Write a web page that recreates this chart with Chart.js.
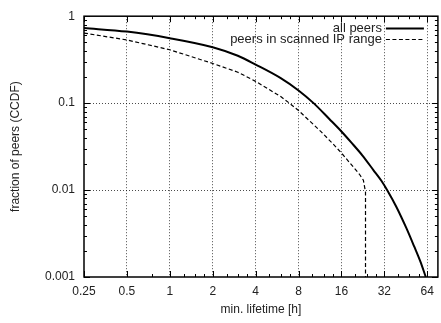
<!DOCTYPE html>
<html>
<head>
<meta charset="utf-8">
<script src="https://cdn.jsdelivr.net/npm/chart.js@4/dist/chart.umd.min.js"></script>
<style>
  html, body { margin: 0; padding: 0; background: #fff; }
</style>
</head>
<body>
<canvas id="myChart" width="441" height="323"></canvas>
<script>
// CCDF of peer lifetimes
const allPeersX = [0.25, 0.5, 1, 2, 3, 4, 6, 8, 10.2, 13.2, 16, 18.8, 22.4, 26.8, 30.5, 33.6, 38.8, 45.6, 51.9, 57.2, 62.5];
const allPeersY = [0.73, 0.665, 0.559, 0.44, 0.351, 0.278, 0.194, 0.14, 0.1, 0.0653, 0.0472, 0.0351, 0.0251, 0.017, 0.0128, 0.0099, 0.00644, 0.00367, 0.00223, 0.00151, 0.001];
const scannedX = [0.25, 0.5, 1, 2, 3, 4, 6, 6.9, 8, 11.5, 13.9, 16, 21.4, 22.8, 23.6, 23.6];
const scannedY = [0.64, 0.533, 0.411, 0.286, 0.227, 0.178, 0.119, 0.1, 0.0823, 0.047, 0.0342, 0.0267, 0.0152, 0.013, 0.0095, 0.001];

const seriesLabels = ['all peers', 'peers in scanned IP range'];

const xMajorTicks = [0.25, 0.5, 1, 2, 4, 8, 16, 32, 64];
const xTickLabels = ['0.25', '0.5', '1', '2', '4', '8', '16', '32', '64'];
const xMinorTicks = [0.75, 1.25, 1.5, 1.75, 2.5, 3, 3.5, 5, 6, 7, 10, 12, 14, 20, 24, 28, 40, 48, 56];
const yMajorTicks = [0.001, 0.01, 0.1, 1];
const yTickLabels = ['0.001', '0.01', '0.1', '1'];
const yMinorTicks = [0.002, 0.003, 0.004, 0.005, 0.006, 0.007, 0.008, 0.009,
  0.02, 0.03, 0.04, 0.05, 0.06, 0.07, 0.08, 0.09,
  0.2, 0.3, 0.4, 0.5, 0.6, 0.7, 0.8, 0.9];

const FAMILY = '"Liberation Sans", Arial, Helvetica, sans-serif';
const FONT = { family: FAMILY, size: 12 };
const TEXT = '#222';
const GRID = 'rgba(0,0,0,0.7)';

// frame, inward tick marks (gnuplot style) and the legend inside the plot
const framePlugin = {
  id: 'frame',
  afterDatasetsDraw(chart) {
    const { ctx, chartArea: a, scales: { x, y } } = chart;
    ctx.save();
    ctx.strokeStyle = '#000';
    ctx.lineWidth = 1;
    ctx.beginPath();
    const xt = xMajorTicks.map(v => [v, 6]).concat(xMinorTicks.map(v => [v, 3]));
    xt.forEach(([v, len]) => {
      const px = Math.round(x.getPixelForValue(v)) + 0.5;
      ctx.moveTo(px, a.bottom); ctx.lineTo(px, a.bottom - len);
      ctx.moveTo(px, a.top); ctx.lineTo(px, a.top + len);
    });
    const yt = yMajorTicks.map(v => [v, 6]).concat(yMinorTicks.map(v => [v, 3]));
    yt.forEach(([v, len]) => {
      const py = Math.round(y.getPixelForValue(v)) + 0.5;
      ctx.moveTo(a.left, py); ctx.lineTo(a.left + len, py);
      ctx.moveTo(a.right, py); ctx.lineTo(a.right - len, py);
    });
    ctx.stroke();

    ctx.lineWidth = 1.5;
    ctx.strokeRect(a.left, a.top, a.right - a.left, a.bottom - a.top);

    // legend
    ctx.font = '13px ' + FAMILY;
    ctx.fillStyle = TEXT;
    ctx.textAlign = 'right';
    ctx.textBaseline = 'middle';
    chart.data.datasets.forEach((ds, i) => {
      const ty = a.top + 12 + i * 11;
      ctx.fillText(ds.label, a.right - 56, ty);
      ctx.beginPath();
      ctx.lineWidth = ds.borderWidth;
      ctx.setLineDash(ds.borderDash || []);
      ctx.moveTo(a.right - 52, Math.round(ty) + 0.5);
      ctx.lineTo(a.right - 14, Math.round(ty) + 0.5);
      ctx.stroke();
      ctx.setLineDash([]);
    });
    ctx.restore();
  }
};

const toPoints = (xs, ys) => xs.map((v, i) => ({ x: v, y: ys[i] }));

new Chart(document.getElementById('myChart').getContext('2d'), {
  type: 'scatter',
  data: {
    datasets: [{
      label: seriesLabels[0],
      data: toPoints(allPeersX, allPeersY),
      showLine: true,
      borderColor: '#000',
      borderWidth: 2,
      pointRadius: 0,
      cubicInterpolationMode: 'monotone'
    }, {
      label: seriesLabels[1],
      data: toPoints(scannedX, scannedY),
      showLine: true,
      borderColor: '#000',
      borderWidth: 1.2,
      borderDash: [4, 2.5],
      pointRadius: 0,
      tension: 0
    }]
  },
  options: {
    responsive: false,
    animation: false,
    devicePixelRatio: 1,
    layout: { padding: { top: 10, right: 2, left: 0, bottom: 0 } },
    plugins: { legend: { display: false }, tooltip: { enabled: false } },
    scales: {
      x: {
        type: 'logarithmic',
        min: 0.25,
        max: 76,
        afterBuildTicks: s => { s.ticks = xMajorTicks.map(v => ({ value: v })); },
        afterFit: s => { s.height = 46; },
        grid: {
          drawTicks: false,
          lineWidth: 1,
          color: c => (c.tick && c.tick.value > 0.25 ? GRID : 'rgba(0,0,0,0)')
        },
        border: { display: false, dash: [1, 2] },
        ticks: {
          autoSkip: false,
          maxRotation: 0,
          padding: 7,
          color: TEXT,
          font: FONT,
          callback: (v, i) => xTickLabels[i]
        },
        title: {
          display: true,
          text: 'min. lifetime [h]',
          color: TEXT,
          font: FONT,
          padding: { top: 0, bottom: 6 }
        }
      },
      y: {
        type: 'logarithmic',
        min: 0.001,
        max: 1,
        afterBuildTicks: s => { s.ticks = yMajorTicks.map(v => ({ value: v })); },
        afterFit: s => { s.width = 84; },
        grid: {
          drawTicks: false,
          lineWidth: 1,
          color: c => (c.tick && c.tick.value > 0.001 && c.tick.value < 1 ? GRID : 'rgba(0,0,0,0)')
        },
        border: { display: false, dash: [1, 2] },
        ticks: {
          autoSkip: false,
          padding: 9,
          color: TEXT,
          font: FONT,
          callback: (v, i) => yTickLabels[i]
        },
        title: {
          display: true,
          text: 'fraction of peers (CCDF)',
          color: TEXT,
          font: FONT,
          padding: { top: 8, bottom: 0 }
        }
      }
    }
  },
  plugins: [framePlugin]
});
</script>
</body>
</html>
